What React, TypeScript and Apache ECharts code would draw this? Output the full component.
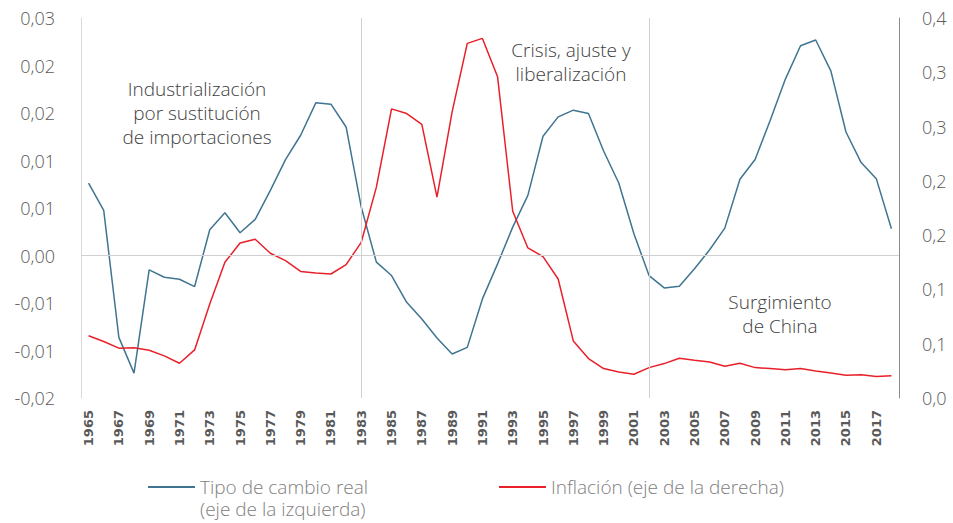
import React, { useEffect, useRef } from "react";
import * as echarts from "echarts";

const years: string[] = [];
for (let y = 1965; y <= 2018; y++) years.push(String(y));

const tipoCambio = [
  0.00763, 0.00475, -0.00862, -0.01238, -0.00151, -0.00229, -0.0025, -0.00327, 0.00271, 0.0045,
  0.00239, 0.0038, 0.00686, 0.0101, 0.01266, 0.01607, 0.01593, 0.01353, 0.0051, -0.0007,
  -0.00211, -0.00493, -0.00668, -0.00868, -0.01037, -0.00967, -0.00457, -0.00088, 0.00299, 0.00633,
  0.01255, 0.01459, 0.0153, 0.01495, 0.011, 0.00763, 0.00229, -0.00211, -0.00341, -0.00323,
  -0.0014, 0.0006, 0.00288, 0.00802, 0.0101, 0.01424, 0.01857, 0.02208, 0.02268, 0.01944,
  0.013, 0.00978, 0.00809, 0.00282,
];

const inflacion = [
  0.0573, 0.052, 0.0459, 0.0462, 0.044, 0.0388, 0.032, 0.0443, 0.0865, 0.125,
  0.1428, 0.1462, 0.1333, 0.1265, 0.1166, 0.1151, 0.1142, 0.1228, 0.1434, 0.1942,
  0.2663, 0.262, 0.2521, 0.185, 0.2635, 0.3266, 0.3312, 0.2958, 0.172, 0.1382,
  0.1302, 0.1096, 0.0526, 0.0363, 0.0271, 0.024, 0.0219, 0.028, 0.0317, 0.0366,
  0.0348, 0.0332, 0.0292, 0.032, 0.028, 0.0271, 0.0261, 0.0271, 0.0249, 0.0231,
  0.021, 0.0215, 0.0197, 0.0206,
];

const periodMarks = ["1983", "2002"];

const nameTipo = "Tipo de cambio real\n(eje de la izquierda)";
const nameInfl = "Inflación (eje de la derecha)";

const annotations = [
  { text: "Industrialización\npor sustitución\nde importaciones", x: 197, y: 77 },
  { text: "Crisis, ajuste y\nliberalización", x: 571, y: 38 },
  { text: "Surgimiento\nde China", x: 780, y: 290 },
];

const FONT = "'Open Sans', sans-serif";

function fmt(v: number, d: number) {
  const p = Math.pow(10, d);
  const s = v < 0 ? -1 : 1;
  const r = (s * Math.round(Math.abs(v) * p + 1e-6)) / p;
  return r.toFixed(d).replace(".", ",");
}

export default function App() {
  const ref = useRef<HTMLDivElement>(null);
  useEffect(() => {
    if (!ref.current) return;
    const chart = echarts.init(ref.current, null, { renderer: "svg" });
    const legendText = { fontFamily: FONT, fontSize: 19, fontWeight: 300, color: "#808080", lineHeight: 22 };
    chart.setOption({
      animation: false,
      backgroundColor: "#ffffff",
      grid: { left: 81, right: 54, top: 18, bottom: 125, containLabel: false },
      legend: [
        {
          data: [nameTipo],
          formatter: (n: string) => n.split("\n")[0],
          left: 148,
          top: 476,
          padding: 0,
          icon: "rect",
          itemWidth: 47,
          itemHeight: 2,
          itemGap: 0,
          textStyle: legendText,
        },
        {
          data: [nameInfl],
          left: 499,
          top: 476,
          padding: 0,
          icon: "rect",
          itemWidth: 47,
          itemHeight: 2,
          itemGap: 0,
          textStyle: legendText,
        },
      ],
      xAxis: {
        type: "category",
        data: years,
        boundaryGap: true,
        axisLine: { show: false },
        axisTick: { show: false },
        axisLabel: {
          interval: 1,
          rotate: 90,
          margin: 12,
          fontFamily: "'DejaVu Sans', sans-serif",
          fontWeight: "bold",
          fontSize: 13,
          color: "#595959",
        },
        splitLine: { show: false },
      },
      yAxis: [
        {
          type: "value",
          min: -0.015,
          max: 0.025,
          interval: 0.005,
          axisLine: { show: true, lineStyle: { color: "#d9d9d9", width: 1 } },
          axisTick: { show: false },
          splitLine: { show: false },
          axisLabel: {
            margin: 26,
            fontFamily: FONT,
            fontSize: 18,
            fontWeight: 300,
            color: "#595959",
            formatter: (v: number) => fmt(v, 2),
          },
        },
        {
          type: "value",
          min: 0,
          max: 0.35,
          interval: 0.05,
          position: "right",
          axisLine: { show: true, lineStyle: { color: "#8c8c8c", width: 1 } },
          axisTick: { show: false },
          splitLine: { show: false },
          axisLabel: {
            margin: 23,
            fontFamily: FONT,
            fontSize: 18,
            fontWeight: 300,
            color: "#595959",
            formatter: (v: number) => fmt(v, 1),
          },
        },
      ],
      series: [
        {
          name: nameTipo,
          type: "line",
          data: tipoCambio,
          yAxisIndex: 0,
          symbol: "none",
          color: "#3f7590",
          lineStyle: { color: "#3f7590", width: 1.5 },
          z: 3,
          markLine: {
            silent: true,
            symbol: "none",
            label: { show: false },
            lineStyle: { color: "#d0d0d0", width: 1, type: "solid" },
            data: [{ yAxis: 0 }, ...periodMarks.map((m) => ({ xAxis: m }))],
          },
        },
        {
          name: nameInfl,
          type: "line",
          data: inflacion,
          yAxisIndex: 1,
          symbol: "none",
          color: "#e8202a",
          lineStyle: { color: "#e8202a", width: 1.5 },
          z: 4,
        },
      ],
      graphic: [
        ...annotations.map((a) => ({
          type: "text",
          x: a.x,
          y: a.y,
          style: {
            text: a.text,
            fill: "#404040",
            font: `300 19px ${FONT}`,
            textAlign: "center",
            textVerticalAlign: "top",
            lineHeight: 24,
          },
        })),
        {
          type: "text",
          x: 200,
          y: 509,
          style: {
            text: nameTipo.split("\n")[1],
            fill: "#808080",
            font: `300 19px ${FONT}`,
            textAlign: "left",
            textVerticalAlign: "middle",
          },
        },
      ],
    });
    return () => chart.dispose();
  }, []);
  return <div ref={ref} style={{ position: "fixed", left: 0, top: 0, width: 953, height: 523 }} />;
}
